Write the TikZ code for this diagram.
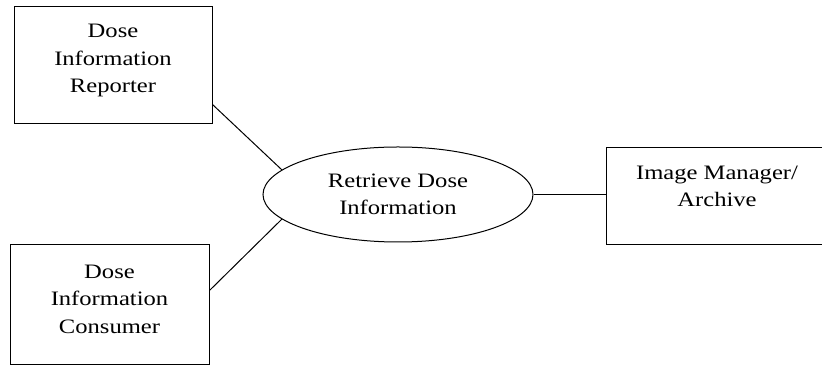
\documentclass[tikz,border=0pt]{standalone}
\usepackage{fontspec}
\setmainfont{Liberation Serif}[FakeStretch=1.2]
\usepackage{tikz}
\usetikzlibrary{shapes.geometric, positioning, calc}

\begin{document}
\begin{tikzpicture}[
    x=1pt, y=1pt,
    every node/.style={font=\fontsize{20.5}{27.5}\selectfont},
    actor/.style={rectangle, draw=black, line width=1pt, inner sep=0pt},
    usecase/.style={ellipse, draw=black, line width=1pt, inner sep=0pt, minimum width=270pt, minimum height=95pt},
    caption/.style={align=center, inner sep=0pt},
    link/.style={draw=black, line width=1pt}
]
    \useasboundingbox (0,0) rectangle (822,366);

    % Actor boxes
    \node[actor, minimum width=198pt, minimum height=117pt] (reporter) at (113,300.5) {};
    \node[caption] (reportertxt) at ([yshift=5pt]reporter.center) {Dose\\Information\\Reporter};

    \node[actor, minimum width=199pt, minimum height=120pt] (consumer) at (109.5,61) {};
    \node[caption] (consumertxt) at ([yshift=6pt]consumer.center) {Dose\\Information\\Consumer};

    % right box runs past the page edge
    \node[actor, minimum width=222pt, minimum height=97pt] (archive) at (717,169.5) {};
    \node[caption] (archivetxt) at ([yshift=10pt]archive.center) {Image Manager/\\Archive};

    % Central use case
    \node[usecase, align=center] (retrieve) at (398,171.5) {Retrieve Dose\\Information};

    % Links
    \draw[link] ([yshift=20pt]reporter.south east) -- (retrieve.168.5);
    \draw[link] ([yshift=-46pt]consumer.north east) -- (retrieve.192.5);
    \draw[link] (retrieve.east) -- (retrieve.east -| archive.west);
\end{tikzpicture}
\end{document}
